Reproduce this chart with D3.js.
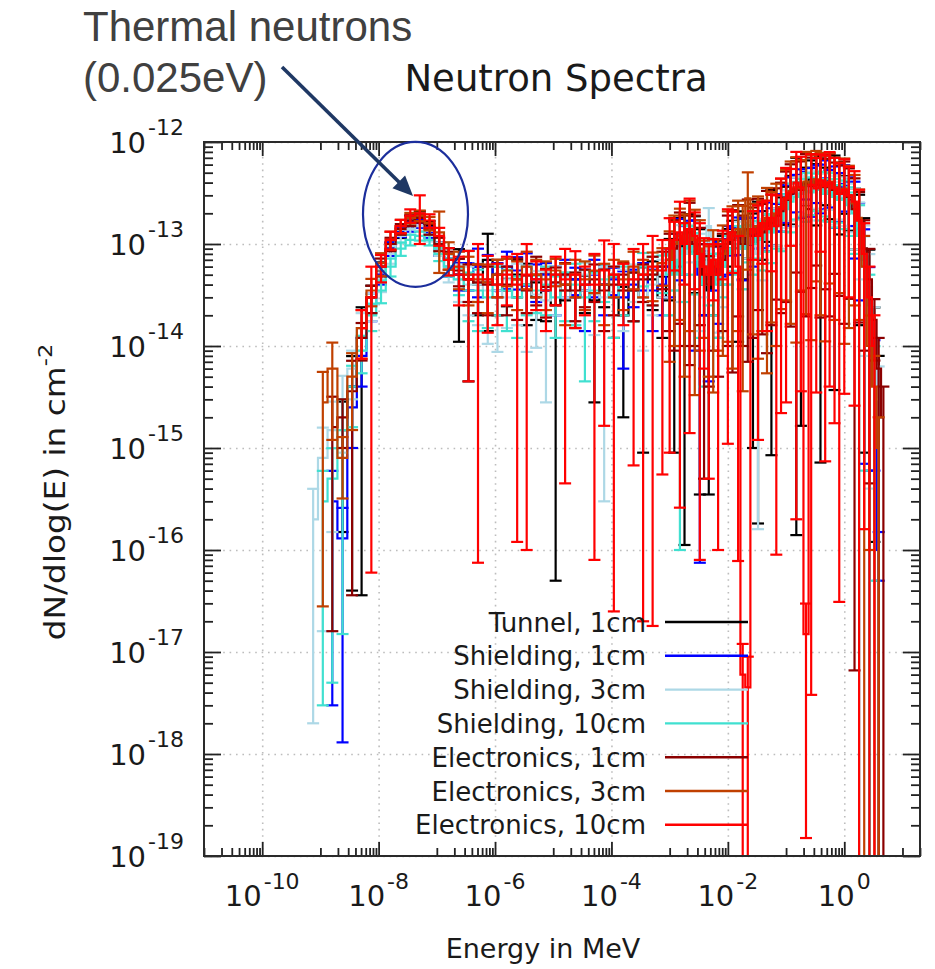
<!DOCTYPE html>
<html><head><meta charset="utf-8">
<script src="https://cdn.jsdelivr.net/npm/d3@7"></script>
<style>
body{margin:0;background:#fff;}
svg{display:block;}
text{font-family:"DejaVu Sans",sans-serif;fill:#1a1a1a;}
</style></head><body>
<svg id="c" width="935" height="969"></svg>
<script>
// Bin energies (MeV)
const energies = [
 7.5e-10,1.1e-9,1.6e-9,2.4e-9,3.5e-9,5.1e-9,7.5e-9,1.1e-8,1.6e-8,2.4e-8,3.5e-8,5.1e-8,7.5e-8,1.1e-7,1.6e-7,2.4e-7,3.5e-7,5.1e-7,7.5e-7,
 1.1e-6,1.6e-6,2.4e-6,3.5e-6,5.1e-6,7.5e-6,1.1e-5,1.6e-5,2.4e-5,3.5e-5,5.1e-5,7.5e-5,1.1e-4,1.6e-4,2.4e-4,3.5e-4,5.1e-4,7.5e-4,
 1.0e-3,1.2e-3,1.5e-3,1.8e-3,2.2e-3,2.7e-3,3.3e-3,3.9e-3,4.7e-3,5.6e-3,6.8e-3,8.2e-3,
 1.0e-2,1.2e-2,1.5e-2,1.8e-2,2.2e-2,2.7e-2,3.3e-2,3.9e-2,4.7e-2,5.6e-2,6.8e-2,8.2e-2,
 0.10,0.12,0.15,0.18,0.22,0.27,0.33,0.39,0.47,0.56,0.68,0.82,
 1.0,1.2,1.5,1.8,2.2,2.7,3.3,3.9,4.7];

// values in units of 1e-14 cm^-2 ; R = relative (symmetric) error
const UNIT = 1e-14;
const tunnel1V = [null,null,null,0.15,0.4,1.2,3,5.5,9,13,17,19,15,9,7,5,4.5,4,7,
 4,3.5,5,4,3,3.5,2.5,4,3,3.5,2.8,4,3,2,3.5,3,4.5,3,
 7,9,12,8,14,11,7,4,3.5,5,6,8,10,13,11,9,12,10,13,14,15,17,16,22,
 26,31,35,33,40,44,38,36,40,35,37,31,33,27,22,16,9,4,1.2,0.4,null];
const tunnel1R = [0,0,0,.9,.99,.997,.3,.2,.15,.12,.12,.1,.12,.15,.3,.78,.9,.5,.8,
 .5,.3,.4,.6,.4,.5,.998,.3,.5,.4,.9,.4,.6,.9,.5,.97,.5,.6,
 .6,.99,.5,.9986,.4,.7,.995,.5,.99,.6,.8,.5,.4,.3,.9,.5,.4,.99,.9986,.5,.3,.995,.4,.3,
 .4,.5,.9996,.995,.4,.5,.6,.998,.4,.5,.99,.6,.4,.5,.6,.9,.99,1.2,.99,1,0];

const shield1V = [null,null,0.03,0.013,0.25,0.8,2.5,5,9,13,15,16,13,9,6,5,5,6,6,
 5,6,5.5,6,4.5,5,4,5,4.5,3.5,5,4,4.5,3,4,5,3.5,4,
 6,9,11,10,13,9,5,5,4.5,7,5.5,8,10,11,13,11,14,12,15,13,17,16,19,22,
 27,30,34,36,39,37,42,40,44,38,36,33,40,30,24,14,7,3,0.6,0.01,null];
const shield1R = [0,0,.99,.99,.6,.5,.3,.2,.15,.1,.12,.1,.12,.15,.2,.3,.3,.5,.3,
 .3,.4,.35,.35,.4,.3,.5,.4,.3,.6,.4,.5,.3,.8,.4,.3,.6,.5,
 .5,.4,.6,.5,.3,.9,.9985,.6,.9,.5,.7,.4,.5,.3,.4,.6,.3,.5,.4,.3,.5,.4,.3,.4,
 .4,.5,.4,.5,.3,.5,.4,.5,.5,.4,.6,.5,.48,.5,.7,.8,.99,.98,.9,.5,0];

const shield3V = [0.02,0.08,0.15,0.3,0.6,1.5,2.5,4.5,8,12,14,15,12,9,6,4.5,4,4,3.5,
 3.5,3,4,3.5,3.2,2.8,4,3,3.5,5,3.2,3,4,3.5,4.5,3,4,5,
 5,7,9,8,11,9,7,6,15,5,4.5,6,8,9,11,9,12,10,8,11,14,13,16,18,
 24,28,30,33,35,34,37,35,33,36,31,29,30,26,22,15,8,4,1.2,0.3,null];
const shield3R = [.99,.98,.9,.7,.5,.4,.3,.25,.2,.15,.12,.1,.12,.15,.3,.4,.5,.6,.7,
 .75,.5,.6,.75,.7,.9,.5,.6,.5,.3,.6,.99,.5,.6,.4,.7,.5,.4,
 .6,.5,.7,.5,.4,.6,.8,.5,.5,.9,.7,.6,.5,.4,.5,.6,.4,.5,.998,.6,.4,.5,.4,.5,
 .4,.4,.5,.4,.3,.5,.4,.4,.5,.4,.5,.4,.5,.5,.6,.7,.9,.99,1,1.1,0];

const shield10V = [null,0.03,0.05,0.15,0.4,0.9,2,3.5,6,9,11,12,11,8,6,4.5,3.5,3.5,3,
 4,3.5,3,4,3.5,4,3,3.5,4,3,3.5,4.5,3,4,3.5,6,5,5.5,
 5,7,5,9,10,8,6,4,5,5,4,6,8,9,10,9,11,10,12,11,14,13,15,17,
 22,26,29,31,33,32,35,34,31,33,29,27,28,24,20,12,6,2.5,0.5,null,null];
const shield10R = [0,.99,.99,.99,.6,.4,.3,.25,.2,.15,.12,.1,.12,.15,.2,.3,.5,.6,.5,
 .5,.6,.6,.5,.4,.5,.6,.5,.6,.85,.5,.4,.6,.5,.5,.36,.5,.4,
 .6,.5,.998,.7,.5,.6,.8,.9,.5,.6,.7,.5,.5,.4,.5,.6,.4,.5,.4,.5,.4,.5,.4,.5,
 .4,.5,.4,.4,.5,.4,.4,.5,.4,.5,.5,.4,.5,.5,.6,1,.99,1,.99,0,0];

const elec1V = [null,null,0.16,0.2,0.36,1.2,3,6,10,14,17,18,14,10,7,5.5,4.5,4.2,4,
 5,4,4.5,3.5,5,3.8,4.2,5,3.5,4,4.5,3.5,4,5,3.5,4.5,5,6,
 7,9,11,10,13,10,8,5,4,6,5,7,10,11,13,10,14,12,15,13,17,16,19,21,
 27,31,35,34,39,37,41,38,36,39,34,31,33,29,22,17,9,4.5,1.8,0.6,0.2];
const elec1R = [0,0,.99,.5,.99,.4,.3,.2,.15,.12,.12,.1,.12,.15,.2,.3,.4,.5,.5,
 .4,.5,.6,.4,.5,.5,.4,.3,.5,.4,.4,.6,.5,.3,.5,.4,.5,.4,
 .8,.9,.85,.9,.95,.9,.8,.99,.9,.85,.9,.8,.9,.95,.85,.9,.95,.9,.85,.9,.95,.9,.85,.9,
 .9,.95,.85,.9,.95,.9,.85,.95,.9,.95,.85,.9,.95,.9,.99997,.9,.9,.99,.6,1,1];

const elec3V = [null,0.28,0.6,0.08,0.5,1.5,3.5,6.5,11,15,18,19,16,13,8,6,5,4.5,4.2,
 5,5.5,4.5,6,5,4.5,5.5,4,5,4.5,5.5,4,5,4.5,6,5,5.5,6.5,
 7,10,12,10,14,11,9,6,5,7,6,8,11,12,14,12,28,13,15,14,18,17,20,23,
 28,33,36,35,41,38,43,40,37,41,36,33,35,30,25,18,6,1.0,0.4,0.1,null];
const elec3R = [0,.99,.8,.6,.7,.5,.3,.25,.2,.15,.12,.12,.15,.6,.3,.4,.5,.4,.5,
 .4,.3,.5,.4,.4,.5,.3,.6,.4,.5,.4,.6,.4,.5,.4,.4,.5,.4,
 .9,.9,.85,.95,.9,.97,.9,.8,.9,.95,.85,.9,.9,.95,.9,.97,.8,.9,.95,.9,.97,.9,.95,.9,
 .9,.95,.97,.9,.95,.97,.9,.95,.97,.9,.95,.9,.97,.95,.9,.9,1,.99,1,1,0];

const elec10V = [null,null,null,null,null,1.5,3,6,11,15,19,20,17,12,7,5,4.5,5,4.5,
 4,5,4,5,4.5,3.5,5,4.5,5,4,4,5.5,5,4,4.5,5,6,5.5,
 9,11,13,10,14,12,8,6,5,7,5,9,11,13,6,0.0006,0.00045,14,12,16,14,18,15,22,
 28,32,40,36,0.0015,38,35,42,37,40,35,31,34,30,26,17,8,3,1,null,null];
const elec10R = [0,0,0,0,0,.5,.998,.3,.2,.15,.15,.5,.15,.2,.3,.5,.9,.9985,.7,
 .6,.5,.997,.998,.5,.6,.5,.99,.7,.5,.998,.97,.9995,.6,.985,.9996,.9997,.99,
 .99,.5,.998,.6,.99,.7,.999,.9,.99,.6,.998,.5,.99,.6,.9987,1,1,.5,.99,.6,.9,.7,.9994,.99,
 .99,.7,.9995,.99,.99,.99999,.99,.8,.998,.99,.995,.9999,.99,.9,.99,1,.998,1,1,0,0];

const seriesNames = ["Tunnel, 1cm","Shielding, 1cm","Shielding, 3cm","Shielding, 10cm","Electronics, 1cm","Electronics, 3cm","Electronics, 10cm"];
const seriesColors = ["#000000","#0000ff","#add8e6","#40e0d0","#8b0000","#c04000","#ff0000"];
const seriesValues = [tunnel1V,shield1V,shield3V,shield10V,elec1V,elec3V,elec10V];
const seriesErrors = [tunnel1R,shield1R,shield3R,shield10R,elec1R,elec3R,elec10R];

const xMajorTicks = [1e-10,1e-8,1e-6,1e-4,1e-2,1];
const xTickExp = ["-10","-8","-6","-4","-2","0"];
const yMajorTicks = [1e-19,1e-18,1e-17,1e-16,1e-15,1e-14,1e-13,1e-12];
const yTickExp = ["-19","-18","-17","-16","-15","-14","-13","-12"];

const M = {left:204, right:920, top:142, bottom:856};
const svg = d3.select("#c");
const x = d3.scaleLog().domain([1e-11, 20]).range([M.left, M.right]);
const y = d3.scaleLog().domain([1e-19, 1e-12]).range([M.bottom, M.top]);

// minor ticks
const xMinor = [];
[-11,-9,-7,-5,-3,-1,1].forEach(k=>{ for(let m=1;m<=9;m++){ const v=m*Math.pow(10,k); if(v>=1e-11 && v<=20) xMinor.push(v);} });
const yMinor = [];
for(let k=-19;k<=-13;k++){ for(let m=2;m<=9;m++) yMinor.push(m*Math.pow(10,k)); }

// grid
function styleGrid(g){ g.select(".domain").remove(); g.selectAll("line").attr("stroke","#bdbdbd").attr("stroke-width",1.6).attr("stroke-dasharray","1.6,4.8"); }
svg.append("g").attr("transform",`translate(0,${M.bottom})`)
  .call(d3.axisBottom(x).tickValues(xMajorTicks).tickSize(-(M.bottom-M.top)).tickFormat(()=>"")).call(styleGrid);
svg.append("g").attr("transform",`translate(${M.left},0)`)
  .call(d3.axisLeft(y).tickValues(yMajorTicks).tickSize(-(M.right-M.left)).tickFormat(()=>"")).call(styleGrid);

// data
svg.append("defs").append("clipPath").attr("id","clip").append("rect")
  .attr("x",M.left).attr("y",M.top).attr("width",M.right-M.left).attr("height",M.bottom-M.top);
const gData = svg.append("g").attr("clip-path","url(#clip)");
const cap = 6;
seriesValues.forEach((vals,si)=>{
  const errs = seriesErrors[si];
  const pts = energies.map((e,i)=>({e, v: vals[i], r: errs[i]}));
  const g = gData.append("g").attr("stroke",seriesColors[si]).attr("stroke-width",2.2).attr("fill","none");
  const line = d3.line().defined(d=>d.v!=null).x(d=>x(d.e)).y(d=>y(d.v*UNIT)).curve(d3.curveStep);
  g.append("path").attr("d", line(pts));
  const good = pts.filter(d=>d.v!=null);
  good.forEach(d=>{
    const cx = x(d.e);
    const lo = d.v*(1-d.r), hi = d.v*(1+d.r);
    const yHi = y(hi*UNIT);
    const yLo = lo>0 ? y(lo*UNIT) : M.bottom+10;
    g.append("line").attr("x1",cx).attr("x2",cx).attr("y1",yLo).attr("y2",yHi);
    g.append("line").attr("x1",cx-cap).attr("x2",cx+cap).attr("y1",yHi).attr("y2",yHi);
    if(lo>0) g.append("line").attr("x1",cx-cap).attr("x2",cx+cap).attr("y1",yLo).attr("y2",yLo);
  });
});

// axes ticks (all four sides)
function styleAx(g){ g.select(".domain").remove(); g.selectAll("line").attr("stroke","#222").attr("stroke-width",1.8); }
const noLab = ()=>"";
svg.append("g").attr("transform",`translate(0,${M.bottom})`).call(d3.axisBottom(x).tickValues(xMajorTicks).tickSize(-14).tickFormat(noLab)).call(styleAx);
svg.append("g").attr("transform",`translate(0,${M.bottom})`).call(d3.axisBottom(x).tickValues(xMinor).tickSize(-8).tickFormat(noLab)).call(styleAx);
svg.append("g").attr("transform",`translate(0,${M.top})`).call(d3.axisTop(x).tickValues(xMajorTicks).tickSize(-14).tickFormat(noLab)).call(styleAx);
svg.append("g").attr("transform",`translate(0,${M.top})`).call(d3.axisTop(x).tickValues(xMinor).tickSize(-8).tickFormat(noLab)).call(styleAx);
svg.append("g").attr("transform",`translate(${M.left},0)`).call(d3.axisLeft(y).tickValues(yMajorTicks).tickSize(-17).tickFormat(noLab)).call(styleAx);
svg.append("g").attr("transform",`translate(${M.left},0)`).call(d3.axisLeft(y).tickValues(yMinor).tickSize(-9).tickFormat(noLab)).call(styleAx);
svg.append("g").attr("transform",`translate(${M.right},0)`).call(d3.axisRight(y).tickValues(yMajorTicks).tickSize(-17).tickFormat(noLab)).call(styleAx);
svg.append("g").attr("transform",`translate(${M.right},0)`).call(d3.axisRight(y).tickValues(yMinor).tickSize(-9).tickFormat(noLab)).call(styleAx);
svg.append("rect").attr("x",M.left).attr("y",M.top).attr("width",M.right-M.left).attr("height",M.bottom-M.top)
  .attr("fill","none").attr("stroke","#2a2a2a").attr("stroke-width",2);

// tick labels
xMajorTicks.forEach((t,i)=>{
  const tx = svg.append("text").attr("x",x(t)).attr("y",906).attr("text-anchor","middle").attr("font-size",29);
  tx.append("tspan").text("10");
  tx.append("tspan").attr("font-size",22).attr("dx",2).attr("dy",-17).text(xTickExp[i]);
});
yMajorTicks.forEach((t,i)=>{
  const ty = svg.append("text").attr("x",184).attr("y",y(t)+11).attr("text-anchor","end").attr("font-size",29);
  ty.append("tspan").text("10");
  ty.append("tspan").attr("font-size",22).attr("dx",2).attr("dy",-18).text(yTickExp[i]);
});

// axis labels & title
svg.append("text").attr("x",543).attr("y",958).attr("text-anchor","middle").attr("font-size",27).text("Energy in MeV");
const yl = svg.append("text").attr("transform","translate(65,492) rotate(-90) scale(1.13,1)").attr("text-anchor","middle").attr("font-size",29);
yl.append("tspan").text("dN/dlog(E) in cm");
yl.append("tspan").attr("font-size",20).attr("dy",-13).text("-2");
svg.append("text").attr("x",556).attr("y",91).attr("text-anchor","middle").attr("font-size",37).text("Neutron Spectra");

// legend
seriesNames.forEach((n,i)=>{
  const ly = 622 + i*33.8;
  svg.append("text").attr("x",646).attr("y",ly+9.5).attr("text-anchor","end").attr("font-size",26).text(n);
  svg.append("line").attr("x1",665).attr("x2",748).attr("y1",ly).attr("y2",ly).attr("stroke",seriesColors[i]).attr("stroke-width",2.4);
});

// annotation
svg.append("ellipse").attr("cx",x(4.3e-8)).attr("cy",y(1.95e-13)).attr("rx",52.5).attr("ry",72.5)
  .attr("fill","none").attr("stroke","#1c2e9c").attr("stroke-width",2.2);
const tip = [x(3.9e-8), y(2.96e-13)];
const start = [282, 67];
const dx = tip[0]-start[0], dy = tip[1]-start[1], L = Math.hypot(dx,dy), ux = dx/L, uy = dy/L;
const hl = 20, hw = 9;
const bx = tip[0]-hl*ux, by = tip[1]-hl*uy;
svg.append("line").attr("x1",start[0]).attr("y1",start[1]).attr("x2",bx+2*ux).attr("y2",by+2*uy)
  .attr("stroke","#1f3864").attr("stroke-width",3.6);
svg.append("polygon").attr("points",[[tip[0],tip[1]],[bx-hw*uy,by+hw*ux],[bx+hw*uy,by-hw*ux]].map(p=>p.join(",")).join(" "))
  .attr("fill","#1f3864");
const ann = svg.append("g");
ann.append("text").attr("x",83).attr("y",41).attr("font-size",42).style("font-family","'Liberation Sans',Arial,sans-serif").style("fill","#404040").text("Thermal neutrons");
ann.append("text").attr("x",83).attr("y",92).attr("font-size",42).style("font-family","'Liberation Sans',Arial,sans-serif").style("fill","#404040").text("(0.025eV)");
</script>
</body></html>
